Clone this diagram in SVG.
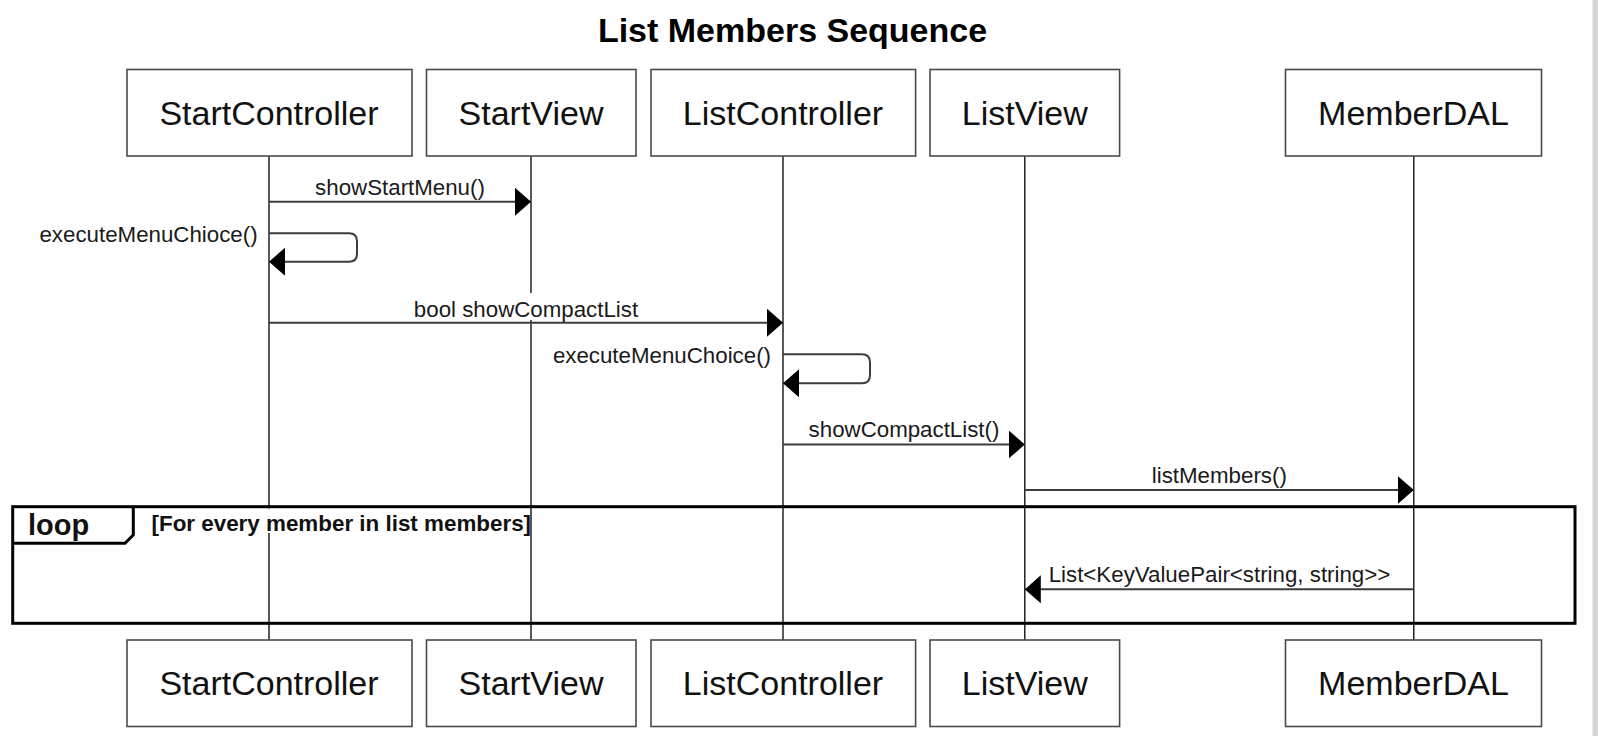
<svg xmlns="http://www.w3.org/2000/svg" width="1598" height="736" viewBox="0 0 1598 736">
  <style>
    .box { fill: #ffffff; stroke: #4a4a4a; stroke-width: 1.6; }
    .life { stroke: #000000; stroke-width: 1.3; fill: none; }
    .pname { font-family: "Liberation Sans", Arial, sans-serif; font-size: 34px; fill: #111111; text-anchor: middle; }
    .title { font-family: "Liberation Sans", Arial, sans-serif; font-size: 34px; font-weight: bold; fill: #000000; text-anchor: middle; }
    .msg { stroke: #3c3c3c; stroke-width: 2; fill: none; marker-end: url(#ah); }
    .lbl { font-family: "Liberation Sans", Arial, sans-serif; font-size: 22.3px; fill: #1a1a1a; }
    .frame { stroke: #000000; stroke-width: 3; fill: none; }
    .fbold { font-family: "Liberation Sans", Arial, sans-serif; font-weight: bold; fill: #111111; }
  </style>
  <defs>
    <marker id="ah" markerWidth="16" markerHeight="28" refX="16" refY="14" orient="auto" markerUnits="userSpaceOnUse">
      <path d="M0,0 L16,14 L0,28 z" fill="#000000"/>
    </marker>
  </defs>
  <rect x="0" y="0" width="1598" height="736" fill="#ffffff"/>
  <rect x="1592.5" y="0" width="5.5" height="736" fill="#d6d6d6"/>

  <text class="title" x="792.5" y="42.3">List Members Sequence</text>

  <g id="lifelines">
    <line class="life" x1="269" y1="156" x2="269" y2="640"/>
    <line class="life" x1="531" y1="156" x2="531" y2="640"/>
    <line class="life" x1="783" y1="156" x2="783" y2="640"/>
    <line class="life" x1="1024.8" y1="156" x2="1024.8" y2="640"/>
    <line class="life" x1="1413.8" y1="156" x2="1413.8" y2="640"/>
  </g>

  <g id="loop-frame">
    <rect x="149" y="508.5" width="381" height="24.5" fill="#ffffff"/>
    <rect class="frame" x="12.7" y="506.7" width="1562.3" height="116.6"/>
    <path class="frame" d="M12.7,543.3 H125 L133.3,535 V506.7"/>
    <text class="fbold" x="28" y="535" font-size="29">loop</text>
    <text class="fbold" x="151.5" y="530.5" font-size="22.4">[For every member in list members]</text>
  </g>

  <g id="connectors">
    <g id="m1">
      <path class="msg" d="M269,201.7 H531"/>
      <text class="lbl" x="400" y="195" text-anchor="middle">showStartMenu()</text>
    </g>
    <g id="m2">
      <path class="msg" d="M269,233.3 H349 Q357,233.3 357,241.3 V253.7 Q357,261.7 349,261.7 H269"/>
      <text class="lbl" x="257.6" y="241.5" text-anchor="end">executeMenuChioce()</text>
    </g>
    <g id="m3">
      <rect x="410" y="293" width="232" height="27" fill="#ffffff"/>
      <path class="msg" d="M269,322.7 H783"/>
      <text class="lbl" x="526" y="316.7" text-anchor="middle">bool showCompactList</text>
    </g>
    <g id="m4">
      <path class="msg" d="M783,354.3 H862 Q870,354.3 870,362.3 V375.3 Q870,383.3 862,383.3 H783"/>
      <text class="lbl" x="771" y="362.5" text-anchor="end">executeMenuChoice()</text>
    </g>
    <g id="m5">
      <path class="msg" d="M783,444.5 H1024.8"/>
      <text class="lbl" x="904" y="437" text-anchor="middle">showCompactList()</text>
    </g>
    <g id="m6">
      <path class="msg" d="M1024.8,490 H1413.8"/>
      <text class="lbl" x="1219.3" y="482.7" text-anchor="middle">listMembers()</text>
    </g>
    <g id="m7">
      <path class="msg" d="M1413.8,589.3 H1024.8"/>
      <text class="lbl" x="1219.5" y="581.7" text-anchor="middle">List&lt;KeyValuePair&lt;string, string&gt;&gt;</text>
    </g>
  </g>

  <g id="StartController">
    <rect class="box" x="127" y="69.5" width="285" height="86.5"/>
    <text class="pname" x="269" y="124.5">StartController</text>
    <rect class="box" x="127" y="640" width="285" height="86.5"/>
    <text class="pname" x="269" y="695">StartController</text>
  </g>
  <g id="StartView">
    <rect class="box" x="426.5" y="69.5" width="209.5" height="86.5"/>
    <text class="pname" x="531" y="124.5">StartView</text>
    <rect class="box" x="426.5" y="640" width="209.5" height="86.5"/>
    <text class="pname" x="531" y="695">StartView</text>
  </g>
  <g id="ListController">
    <rect class="box" x="651" y="69.5" width="264.6" height="86.5"/>
    <text class="pname" x="783" y="124.5">ListController</text>
    <rect class="box" x="651" y="640" width="264.6" height="86.5"/>
    <text class="pname" x="783" y="695">ListController</text>
  </g>
  <g id="ListView">
    <rect class="box" x="930" y="69.5" width="189.6" height="86.5"/>
    <text class="pname" x="1024.8" y="124.5">ListView</text>
    <rect class="box" x="930" y="640" width="189.6" height="86.5"/>
    <text class="pname" x="1024.8" y="695">ListView</text>
  </g>
  <g id="MemberDAL">
    <rect class="box" x="1285.5" y="69.5" width="256" height="86.5"/>
    <text class="pname" x="1413.5" y="124.5">MemberDAL</text>
    <rect class="box" x="1285.5" y="640" width="256" height="86.5"/>
    <text class="pname" x="1413.5" y="695">MemberDAL</text>
  </g>
</svg>
